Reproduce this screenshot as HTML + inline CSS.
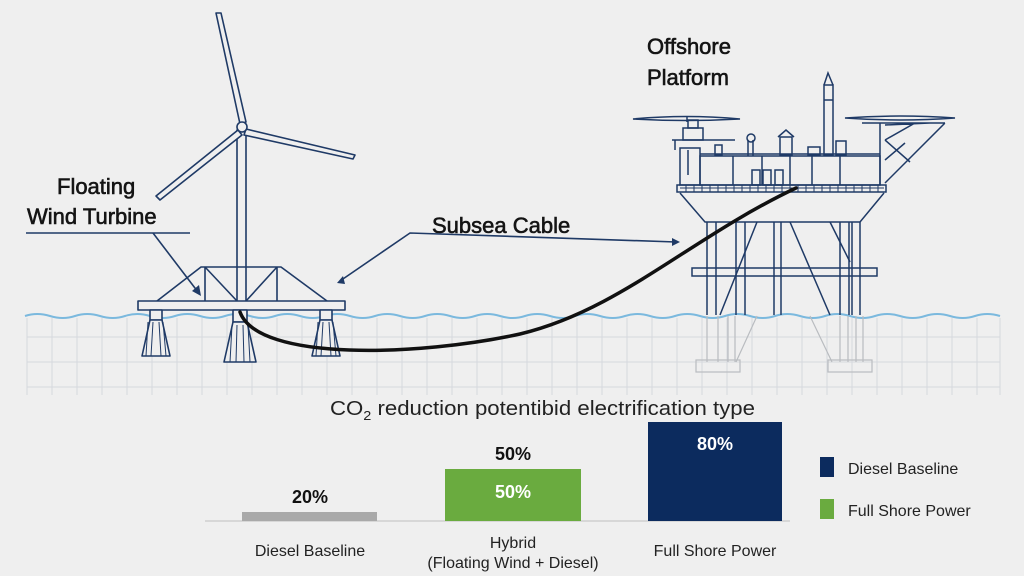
<!DOCTYPE html>
<html><head><meta charset="utf-8"><style>
html,body{margin:0;padding:0;background:#efefef;}
svg{display:block;}
text{font-family:"Liberation Sans",sans-serif;}
</style></head><body>
<svg width="1024" height="576" viewBox="0 0 1024 576" xmlns="http://www.w3.org/2000/svg">
<rect width="1024" height="576" fill="#efefef"/>
<g stroke="#d6d9dd" stroke-width="1" fill="none">
<path d="M27 318V395M52 318V395M77 318V395M102 318V395M127 318V395M152 318V395M177 318V395M202 318V395M227 318V395M252 318V395M277 318V395M302 318V395M327 318V395M352 318V395M377 318V395M402 318V395M427 318V395M452 318V395M477 318V395M502 318V395M527 318V395M552 318V395M577 318V395M602 318V395M627 318V395M652 318V395M677 318V395M702 318V395M727 318V395M752 318V395M777 318V395M802 318V395M827 318V395M852 318V395M877 318V395M902 318V395M927 318V395M952 318V395M977 318V395M1000 318V395"/>
<path d="M27 337H1000M27 362H1000M27 387H1000"/>
</g>
<path d="M25 316 q12 -4 25 0 t25 0 t25 0 t25 0 t25 0 t25 0 t25 0 t25 0 t25 0 t25 0 t25 0 t25 0 t25 0 t25 0 t25 0 t25 0 t25 0 t25 0 t25 0 t25 0 t25 0 t25 0 t25 0 t25 0 t25 0 t25 0 t25 0 t25 0 t25 0 t25 0 t25 0 t25 0 t25 0 t25 0 t25 0 t25 0 t25 0 t25 0 t25 0" stroke="#7bb9de" stroke-width="2" fill="none"/>
<g stroke="#1f3a66" stroke-width="1.6" fill="#efefef" stroke-linejoin="round">
<rect x="237" y="130" width="9" height="172"/>
<path d="M240 124 L216 13 L221 13 L246 122 Z"/>
<path d="M246 129 L355 155 L353 159 L244 135 Z"/>
<path d="M238 130 L156 196 L160 200 L242 135 Z"/>
<circle cx="242" cy="127" r="5"/>
<path d="M157 301 L201 267 H281 L327 301" fill="none"/>
<path d="M205 267V301M277 267V301M205 267L237 301M277 267L246 301" fill="none"/>
<rect x="138" y="301" width="207" height="9"/>
<rect x="150" y="310" width="12" height="10"/>
<rect x="320" y="310" width="12" height="10"/>
<rect x="233" y="310" width="14" height="12"/>
<path d="M150 320 L142 356 H170 L162 320 Z"/>
<path d="M148 322L146 356M153 322L151 356M159 322L161 356M163 322L166 356" fill="none" stroke-width="1"/>
<path d="M320 320 L312 356 H340 L332 320 Z"/>
<path d="M318 322L316 356M323 322L321 356M329 322L331 356M333 322L336 356" fill="none" stroke-width="1"/>
<path d="M233 322 L224 362 H256 L247 322 Z"/>
<path d="M232 325L230 362M237 325L236 362M243 325L244 362M248 325L250 362" fill="none" stroke-width="1"/>
</g>
<g stroke="#b9bcc0" stroke-width="1.2" fill="none">
<path d="M707 316V362M718 316V362M728 316V362M735 316V362M840 316V362M848 316V362M856 316V362M863 316V362"/>
<rect x="696" y="360" width="44" height="12"/><rect x="828" y="360" width="44" height="12"/>
<path d="M757 316L736 362M810 316L832 362"/>
</g>
<g stroke="#1f3a66" stroke-width="1.5" fill="none">
<rect x="677" y="185" width="209" height="7"/>
<path d="M680 188H884M686 185V192M694 185V192M702 185V192M710 185V192M718 185V192M726 185V192M734 185V192M742 185V192M750 185V192M758 185V192M766 185V192M774 185V192M782 185V192M790 185V192M798 185V192M806 185V192M814 185V192M822 185V192M830 185V192M838 185V192M846 185V192M854 185V192M862 185V192M870 185V192M878 185V192" stroke-width="1"/>
<path d="M680 193 L705 222 H860 L884 193"/>
<path d="M707 222V315M716 222V315M736 222V315M745 222V315M774 222V315M781 222V315M840 222V315M849 222V315M852 222V315M860 222V315"/>
<rect x="692" y="268" width="185" height="8"/>
<path d="M757 222L720 315M790 222L830 315M830 222L850 262"/>
<rect x="700" y="156" width="180" height="29"/>
<path d="M700 154H880M733 156V185M762 156V185M790 156V185M812 156V185M840 156V185"/>
<rect x="752" y="170" width="8" height="15"/><rect x="763" y="170" width="8" height="15"/><rect x="775" y="170" width="8" height="15"/>
<rect x="680" y="148" width="20" height="37"/>
<path d="M672 140H735M675 140V150M688 150V175"/>
<rect x="683" y="128" width="20" height="12"/><rect x="688" y="120" width="10" height="8"/>
<path d="M633 119 Q686 114 740 119 Q686 122 633 119Z"/><path d="M687 116V122"/>
<rect x="715" y="145" width="7" height="10"/>
<path d="M748 140V156M753 140V156"/><circle cx="751" cy="138" r="4"/>
<rect x="780" y="137" width="12" height="18"/><path d="M778 137L786 130L794 137"/>
<rect x="824" y="85" width="9" height="70"/><path d="M824 85L828 73L833 85M824 100H833"/>
<rect x="808" y="147" width="12" height="8"/><rect x="836" y="141" width="10" height="14"/>
<path d="M845 118 Q900 114 955 118 Q900 122 845 118Z"/>
<path d="M862 123H945M880 123V185M945 123L885 183M885 125L930 123M885 140L915 123M885 140L910 162M885 160L905 143"/>
</g>
<g fill="#141414" stroke="#141414" stroke-width="0.6" font-size="22">
<text x="57" y="194">Floating</text>
<text x="27" y="224">Wind Turbine</text>
<text x="432" y="233">Subsea Cable</text>
<text x="647" y="54">Offshore</text>
<text x="647" y="85">Platform</text>
</g>
<g stroke="#1f3a66" stroke-width="1.6" fill="none">
<path d="M26 233H190"/>
<path d="M153 233L198 292"/>
<path d="M340 281L410 233L676 242"/>
</g>
<g fill="#1f3a66">
<path d="M201 296L192 291L199 285Z"/>
<path d="M337 283L343 276L345 284Z"/>
<path d="M680 242L672 238L672 246Z"/>
</g>
<path d="M240 312 C258 362 420 356 520 334 C620 310 690 238 796 188" stroke="#111" stroke-width="3.5" fill="none" stroke-linecap="round"/>
<text x="330" y="415" font-size="20" fill="#222" textLength="425" lengthAdjust="spacingAndGlyphs">CO<tspan font-size="13" dy="5">2</tspan><tspan dy="-5"> reduction potentibid electrification type</tspan></text>
<path d="M205 521H790" stroke="#cfcfcf" stroke-width="1.5"/>
<rect x="242" y="512" width="135" height="9" fill="#a9a9a9"/>
<rect x="445" y="469" width="136" height="52" fill="#6aab3f"/>
<rect x="648" y="422" width="134" height="99" fill="#0c2b5e"/>
<g font-size="18" text-anchor="middle" font-weight="bold">
<text x="310" y="503" fill="#111">20%</text>
<text x="513" y="460" fill="#111">50%</text>
<text x="513" y="498" fill="#fff">50%</text>
<text x="715" y="450" fill="#fff">80%</text>
</g>
<g font-size="16" fill="#222" text-anchor="middle">
<text x="310" y="556">Diesel Baseline</text>
<text x="513" y="548">Hybrid</text>
<text x="513" y="568">(Floating Wind + Diesel)</text>
<text x="715" y="556">Full Shore Power</text>
</g>
<rect x="820" y="457" width="14" height="20" fill="#0c2b5e"/>
<rect x="820" y="499" width="14" height="20" fill="#6aab3f"/>
<g font-size="16" fill="#222">
<text x="848" y="474">Diesel Baseline</text>
<text x="848" y="516">Full Shore Power</text>
</g>
</svg>
</body></html>
